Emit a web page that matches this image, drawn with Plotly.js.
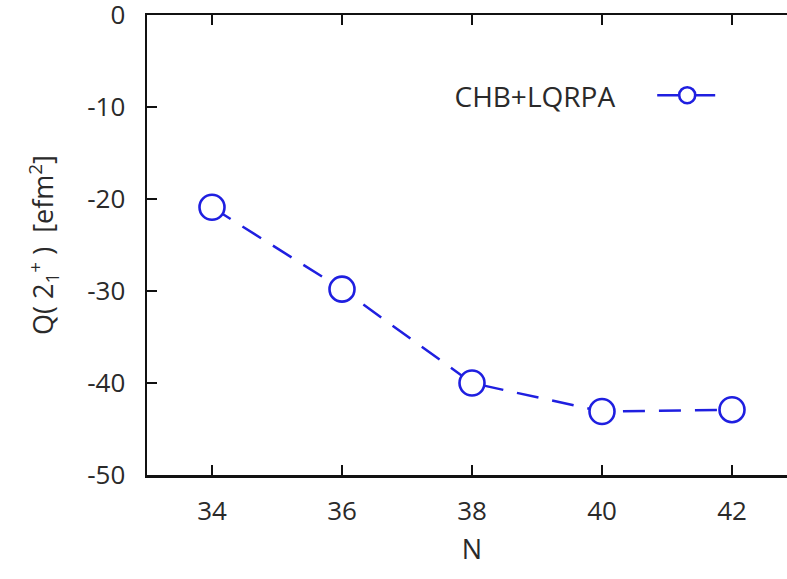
<!DOCTYPE html>
<html>
<head>
<meta charset="utf-8">
<script src="https://cdn.plot.ly/plotly-3.0.1.min.js"></script>
<style>
html,body{margin:0;padding:0;overflow:hidden;background:#fff;}
#chart{width:800px;height:579px;}
</style>
</head>
<body>
<div id="chart"></div>
<script>
const neutronNumber = [34, 36, 38, 40, 42];
const quadrupoleMoment = [-20.9, -29.8, -40.0, -43.1, -42.9];
const seriesName = "CHB+LQRPA";
const xTicks = [34, 36, 38, 40, 42];
const yTicks = [0, -10, -20, -30, -40, -50];

const blue = "#1f1fe0";
const trace = {
  x: neutronNumber,
  y: quadrupoleMoment,
  mode: "lines+markers",
  name: "",
  line: {color: blue, width: 2.5, dash: "22px,14px"},
  marker: {symbol: "circle", size: 25, color: "#ffffff", line: {width: 2.6, color: blue}},
  showlegend: true
};

const tickFont = {family: "Open Sans, DejaVu Sans, sans-serif", size: 26, color: "#2a2a2a"};
const titleFont = {family: "Open Sans, DejaVu Sans, sans-serif", size: 27, color: "#2a2a2a"};
const legendFont = {family: "Open Sans, DejaVu Sans, sans-serif", size: 28, color: "#2a2a2a"};

const layout = {
  width: 800, height: 579,
  margin: {l: 147, r: 3, t: 15, b: 104},
  paper_bgcolor: "#fff", plot_bgcolor: "#fff",
  xaxis: {
    range: [33, 43],
    tickvals: xTicks,
    ticktext: xTicks.map(String),
    ticks: "inside", ticklen: 10, tickwidth: 2, tickcolor: "#111",
    showline: true, linewidth: 2.5, linecolor: "#111", mirror: "ticks",
    showgrid: false, zeroline: false,
    tickfont: tickFont,
    ticklabelstandoff: 11,
    ticklabeloverflow: "allow",
    title: {text: "N", font: titleFont, standoff: 14}
  },
  yaxis: {
    range: [-50, 0],
    tickvals: yTicks,
    ticktext: yTicks.map(String),
    ticks: "inside", ticklen: 10, tickwidth: 2, tickcolor: "#111",
    showline: true, linewidth: 2.5, linecolor: "#111", mirror: "ticks",
    showgrid: false, zeroline: false,
    tickfont: tickFont,
    ticklabelstandoff: 14,
    ticklabeloverflow: "allow",
    title: {text: "Q(&nbsp;2<sub>1</sub><sup>+</sup>&nbsp;)&nbsp;&nbsp;[efm<sup>2</sup>]", font: titleFont, standoff: 26}
  },
  legend: {
    x: 0.47, y: 0.825, xanchor: "left", yanchor: "middle",
    bgcolor: "rgba(0,0,0,0)",
    title: {text: seriesName + "&nbsp;&nbsp;&nbsp;&nbsp;", side: "left", font: legendFont},
    font: legendFont,
    itemwidth: 60
  },
  showlegend: true
};

Plotly.newPlot("chart", [trace], layout, {displayModeBar: false, staticPlot: true});
</script>
</body>
</html>
